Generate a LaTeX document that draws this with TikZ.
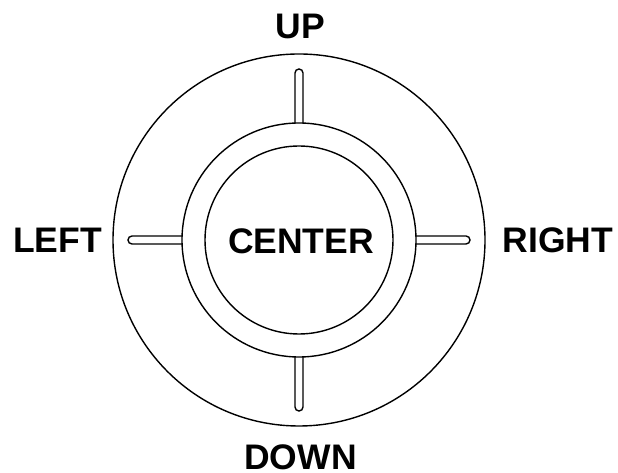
\documentclass[tikz,border=0pt]{standalone}
\usepackage{fontspec}
\setmainfont{Liberation Sans}
\usetikzlibrary{calc}
\begin{document}
\begin{tikzpicture}[x=1pt,y=1pt,
  ring/.style={draw=black,line width=1.4pt},
  slot/.style={draw=black,line width=1.4pt},
  lbl/.style={font=\bfseries\fontsize{35.5}{35.5}\selectfont,inner sep=0pt}]
\useasboundingbox (0,0) rectangle (618,473);
\coordinate (c) at (299,233);
% rings of the pad
\draw[ring] (c) circle (186);
\draw[ring] (c) circle (117);
\draw[ring] (c) circle (94);
% four direction slots between the middle and outer ring
\foreach \a in {90,180,0,270}{
  \draw[slot,rotate around={\a-90:(c)}]
    ($(c)+(-4,116.9)$) -- ($(c)+(-4,167)$) arc (180:0:4) -- ($(c)+(4,116.9)$);
}
% labels
\node[lbl] (center) at (301,232) {CENTER};
\node[lbl] (up) at (300.5,447) {UP};
\node[lbl] (down) at (300.5,15.5) {DOWN};
\node[lbl] (left) at (57.5,233) {LEFT};
\node[lbl] (right) at (558,233) {RIGHT};
\end{tikzpicture}
\end{document}
